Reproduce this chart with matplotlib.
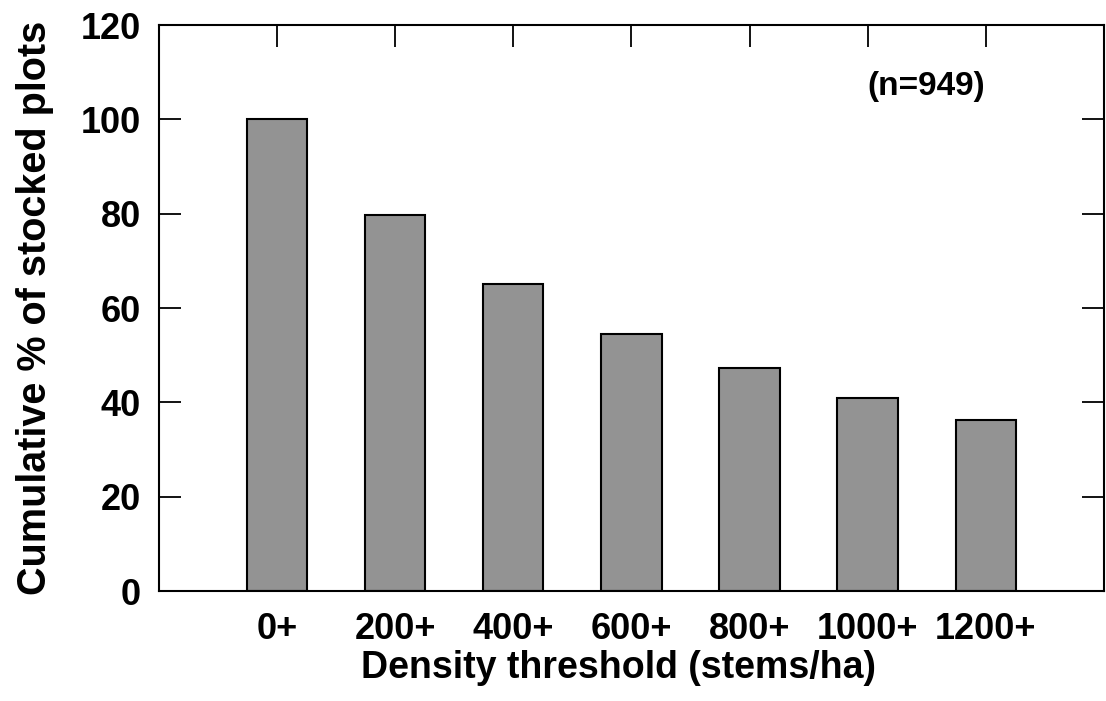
import matplotlib
matplotlib.use("Agg")
import matplotlib.pyplot as plt
import numpy as np

thresholds = ["0+", "200+", "400+", "600+", "800+", "1000+", "1200+"]
cum_pct = [100.0, 79.7, 65.1, 54.4, 47.2, 40.9, 36.3]
n_plots = 949

plt.rcParams["font.family"] = ["Liberation Sans", "DejaVu Sans"]
plt.rcParams["font.weight"] = "bold"

fig = plt.figure(figsize=(11.06, 7.01), dpi=100)
ax = fig.add_axes([0.1438, 0.1569, 0.998 - 0.1438, 0.9643 - 0.1569])

x = np.arange(len(thresholds))
ax.bar(x, cum_pct, width=0.51, color="#939393", edgecolor="black", linewidth=1.5)

ax.set_xlim(-1, len(thresholds))
ax.set_ylim(0, 120)
ax.set_yticks(np.arange(0, 121, 20))
ax.set_xticks(x)
ax.set_xticklabels(thresholds, fontsize=26, fontweight="bold")
for lab in ax.get_yticklabels():
    lab.set_fontsize(26)
    lab.set_fontweight("bold")

ax.tick_params(axis="y", direction="in", length=16, width=1.3, left=True, right=True, pad=13)
ax.tick_params(axis="x", direction="in", length=16, width=1.3, bottom=False, top=True, pad=15)
for s in ax.spines.values():
    s.set_linewidth(1.5)

ax.set_xlabel("Density threshold (stems/ha)", fontsize=27, fontweight="bold", labelpad=2)
ax.xaxis.label.set_x(0.486)
ax.set_ylabel("Cumulative % of stocked plots", fontsize=28.5, fontweight="bold", labelpad=19)
ax.text(5.5, 107, f"(n={n_plots})", fontsize=24, fontweight="bold", ha="center", va="center")

fig.savefig("out.png", dpi=100)
